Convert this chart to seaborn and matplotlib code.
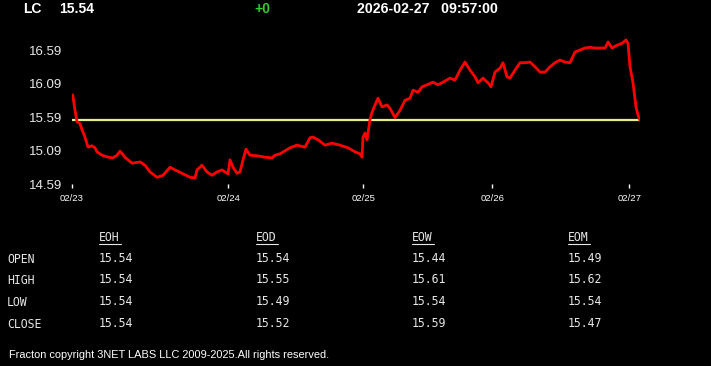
import matplotlib
matplotlib.use("Agg")
import matplotlib.pyplot as plt
import seaborn as sns
import pandas as pd

# ---- data ----
t = [0.7, 3, 5, 8, 10, 13, 16, 20, 23, 25, 30, 36, 41, 45, 48, 53, 60, 68, 73, 78,
     85, 91, 98, 103, 110, 118, 123, 125, 130, 135, 140, 145, 150, 156, 158, 161, 165,
     168, 171, 174, 178, 186, 193, 200, 203, 208, 218, 225, 233, 238, 241, 246, 253,
     260, 268, 276, 283, 288, 290, 291, 293, 295, 298, 300, 303, 306, 310, 315, 318,
     323, 328, 333, 338, 341, 346, 350, 355, 361, 366, 371, 378, 383, 388, 393, 398,
     403, 406, 411, 416, 419, 423, 428, 431, 435, 438, 443, 448, 453, 458, 463, 468,
     473, 478, 483, 488, 493, 498, 503, 508, 513, 518, 523, 528, 533, 536, 540, 545,
     550, 554, 556, 558, 561, 564, 566, 568]
price = [15.92, 15.69, 15.52, 15.49, 15.40, 15.29, 15.14, 15.16, 15.13, 15.07, 15.02,
         14.99, 14.98, 15.02, 15.08, 14.99, 14.90, 14.92, 14.87, 14.77, 14.69, 14.72,
         14.84, 14.80, 14.75, 14.69, 14.68, 14.80, 14.87, 14.77, 14.72, 14.77, 14.80,
         14.74, 14.95, 14.84, 14.75, 14.77, 14.95, 15.11, 15.02, 15.01, 14.99, 14.98,
         15.02, 15.04, 15.13, 15.17, 15.14, 15.28, 15.29, 15.25, 15.17, 15.20, 15.17,
         15.13, 15.07, 15.04, 14.99, 15.29, 15.35, 15.25, 15.55, 15.66, 15.77, 15.87,
         15.74, 15.77, 15.72, 15.58, 15.69, 15.84, 15.87, 15.99, 15.96, 16.04, 16.07,
         16.11, 16.07, 16.11, 16.17, 16.14, 16.29, 16.41, 16.29, 16.19, 16.10, 16.17,
         16.10, 16.04, 16.26, 16.32, 16.40, 16.19, 16.17, 16.29, 16.40, 16.40, 16.41,
         16.34, 16.26, 16.26, 16.34, 16.40, 16.44, 16.41, 16.40, 16.56, 16.59, 16.62,
         16.63, 16.62, 16.62, 16.62, 16.71, 16.62, 16.66, 16.69, 16.74, 16.69, 16.34,
         16.10, 15.74, 15.62, 15.54]
ref_price = 15.54
ytick_vals = [14.59, 15.09, 15.59, 16.09, 16.59]
xtick_pos = [0, 156.3, 291.3, 420.3, 557.3]
xtick_labels = ["02/23", "02/24", "02/25", "02/26", "02/27"]

symbol = "LC"
last = "15.54"
change = "+0"
stamp = "2026-02-27   09:57:00"

col_headers = ["EOH", "EOD", "EOW", "EOM"]
row_labels = ["OPEN", "HIGH", "LOW", "CLOSE"]
eoh = ["15.54", "15.54", "15.54", "15.54"]
eod = ["15.54", "15.55", "15.49", "15.52"]
eow = ["15.44", "15.61", "15.54", "15.59"]
eom = ["15.49", "15.62", "15.54", "15.47"]
footer = "Fracton copyright 3NET LABS LLC 2009-2025.All rights reserved."

# ---- figure ----
sns.set_theme(style="dark")
plt.rcParams["font.family"] = ["Liberation Sans", "DejaVu Sans"]

W, H = 711, 366
fig = plt.figure(figsize=(W / 100, H / 100), dpi=100, facecolor="black")

def fx(px):
    return px / W

def fy(py):
    return 1 - py / H

ymin = 14.59
ymax = 14.59 + (184 - 35) / 67.0
ax = fig.add_axes([fx(72), fy(184), fx(640) - fx(72), fy(35) - fy(184)])
ax.set_facecolor("black")

df = pd.DataFrame({"t": t, "price": price})
ax.axhline(ref_price, color="#e4ec8c", lw=1.6, zorder=1)
sns.lineplot(data=df, x="t", y="price", ax=ax, color="#ff0000", lw=2.0, zorder=2)

ax.set_xlim(0, 568)
ax.set_ylim(ymin, ymax)
ax.set_xticks(xtick_pos)
ax.set_xticklabels(xtick_labels)
ax.set_yticks(ytick_vals)
ax.set_yticklabels([f"{v:.2f}" for v in ytick_vals])
ax.tick_params(axis="x", colors="white", labelcolor="white", length=3, width=1,
               direction="out", pad=4, labelsize=6.8, bottom=True)
ax.tick_params(axis="y", colors="#e8e8e8", length=0, pad=7, labelsize=9.5, left=False)
for s in ax.spines.values():
    s.set_visible(False)
ax.grid(False)
ax.set_xlabel("")
ax.set_ylabel("")

# header
fig.text(fx(23), fy(9), symbol, color="white", fontsize=10, fontweight="bold", va="center")
fig.text(fx(59), fy(9), last, color="white", fontsize=10, fontweight="bold", va="center")
fig.text(fx(254), fy(9), change, color="#33cc33", fontsize=10, fontweight="bold", va="center")
fig.text(fx(357), fy(9), stamp, color="white", fontsize=10.2, fontweight="bold", va="center")

# table
mono = ["DejaVu Sans Mono"]
col_x = [99, 256, 412, 568]
row_y = [259.5, 280.5, 302.5, 324.5]
cols = [eoh, eod, eow, eom]
for cx, hdr in zip(col_x, col_headers):
    fig.text(fx(cx), fy(238), hdr, color="#e8e8e8", fontsize=8.3, family=mono, va="center")
    fig.add_artist(plt.Line2D([fx(cx), fx(cx + 22)], [fy(244), fy(244)],
                              color="#e8e8e8", lw=0.8, transform=fig.transFigure))
for ry, lab in zip(row_y, row_labels):
    fig.text(fx(7), fy(ry), lab, color="#e8e8e8", fontsize=8.3, family=mono, va="center")
for cx, vals in zip(col_x, cols):
    for ry, v in zip(row_y, vals):
        fig.text(fx(cx), fy(ry - 1), v, color="#e8e8e8", fontsize=8.3, family=mono, va="center")

fig.text(fx(9), fy(355), footer, color="white", fontsize=7.9, va="center")

fig.savefig("out.png", dpi=100, facecolor="black")
